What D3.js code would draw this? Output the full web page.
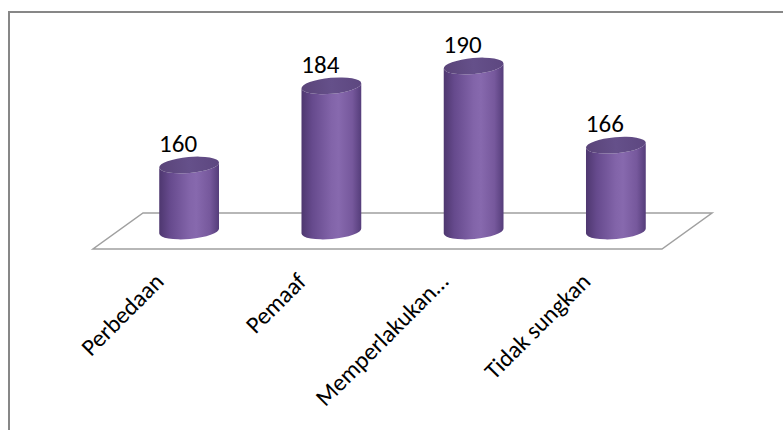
<!DOCTYPE html>
<html>
<head>
<meta charset="utf-8">
<script src="https://cdn.jsdelivr.net/npm/d3@7/dist/d3.min.js"></script>
<style>
  html, body { margin: 0; padding: 0; background: #fff; }
  svg { display: block; }
  text { font-family: Carlito, Calibri, "Open Sans", sans-serif; fill: #000; }
</style>
</head>
<body>
<div id="chart"></div>
<script>
// Data
const categories = ["Perbedaan", "Pemaaf", "Memperlakukan…", "Tidak sungkan"];
const values = [160, 184, 190, 166];
const axisMin = 140;
const axisMax = 200;

const W = 783, H = 430;
const svg = d3.select("#chart").append("svg")
  .attr("width", W).attr("height", H);

// Outer chart frame
svg.append("rect")
  .attr("x", 9).attr("y", 12)
  .attr("width", 820).attr("height", 500)
  .attr("fill", "#fff")
  .attr("stroke", "#878787")
  .attr("stroke-width", 2);

// Scales
const x = d3.scaleBand().domain(categories).range([118, 687]).padding(0);
const y = d3.scaleLinear().domain([axisMin, axisMax]).range([231, 33]);

// Floor (3D depth offsets)
const depthX = 25, depthY = 18;
const x0 = x.range()[0], x1 = x.range()[1], yb = y(axisMin);
const floorPts = [
  [x0 + depthX, yb - depthY],
  [x1 + depthX, yb - depthY],
  [x1 - depthX, yb + depthY],
  [x0 - depthX, yb + depthY]
];
svg.append("path")
  .attr("d", d3.line()(floorPts) + "Z")
  .attr("fill", "none")
  .attr("stroke", "#a0a0a0")
  .attr("stroke-width", 1.5);

// Gradients
const defs = svg.append("defs");
const bodyGrad = defs.append("linearGradient").attr("id", "cylBody")
  .attr("x1", "0%").attr("x2", "100%").attr("y1", "0%").attr("y2", "0%");
[["0%", "#4e376f"], ["18%", "#664a8d"], ["50%", "#8264a9"], ["62%", "#8769ae"],
 ["85%", "#76589c"], ["100%", "#553d7a"]].forEach(([o, c]) =>
  bodyGrad.append("stop").attr("offset", o).attr("stop-color", c));
const capGrad = defs.append("linearGradient").attr("id", "cylTop")
  .attr("x1", "0%").attr("x2", "100%").attr("y1", "0%").attr("y2", "0%");
[["0%", "#5a4479"], ["50%", "#65508a"], ["100%", "#5d4780"]].forEach(([o, c]) =>
  capGrad.append("stop").attr("offset", o).attr("stop-color", c));

// Cylinders
const rx = 30, ry = 8, rot = -5;
const rad = rot * Math.PI / 180;
const ex = rx * Math.cos(rad), ey = rx * Math.sin(rad);

const cyl = svg.append("g").selectAll("g")
  .data(categories.map((c, i) => ({ c, v: values[i] })))
  .join("g");

cyl.append("path")
  .attr("fill", "url(#cylBody)")
  .attr("d", d => {
    const cx = x(d.c) + x.bandwidth() / 2;
    const yt = y(d.v), ybt = y(axisMin);
    return `M${cx - ex},${yt - ey}` +
      `L${cx - ex},${ybt - ey}` +
      `A${rx},${ry} ${rot} 0 0 ${cx + ex},${ybt + ey}` +
      `L${cx + ex},${yt + ey}` +
      `A${rx},${ry} ${rot} 0 1 ${cx - ex},${yt - ey}Z`;
  });

cyl.append("ellipse")
  .attr("cx", d => x(d.c) + x.bandwidth() / 2)
  .attr("cy", d => y(d.v))
  .attr("rx", rx).attr("ry", ry)
  .attr("transform", d => `rotate(${rot},${x(d.c) + x.bandwidth() / 2},${y(d.v)})`)
  .attr("fill", "url(#cylTop)");

// Value labels
cyl.append("text")
  .attr("x", d => x(d.c) + x.bandwidth() / 2 - 11)
  .attr("y", d => y(d.v) - ry - 5)
  .attr("text-anchor", "middle")
  .style("font-size", "25px")
  .text(d => d.v);

// Category labels
svg.append("g").selectAll("text")
  .data(categories)
  .join("text")
  .attr("text-anchor", "end")
  .style("font-size", "24px")
  .attr("transform", d => `translate(${x(d) + x.bandwidth() / 2 - 24},${283}) rotate(-45)`)
  .text(d => d);
</script>
</body>
</html>
